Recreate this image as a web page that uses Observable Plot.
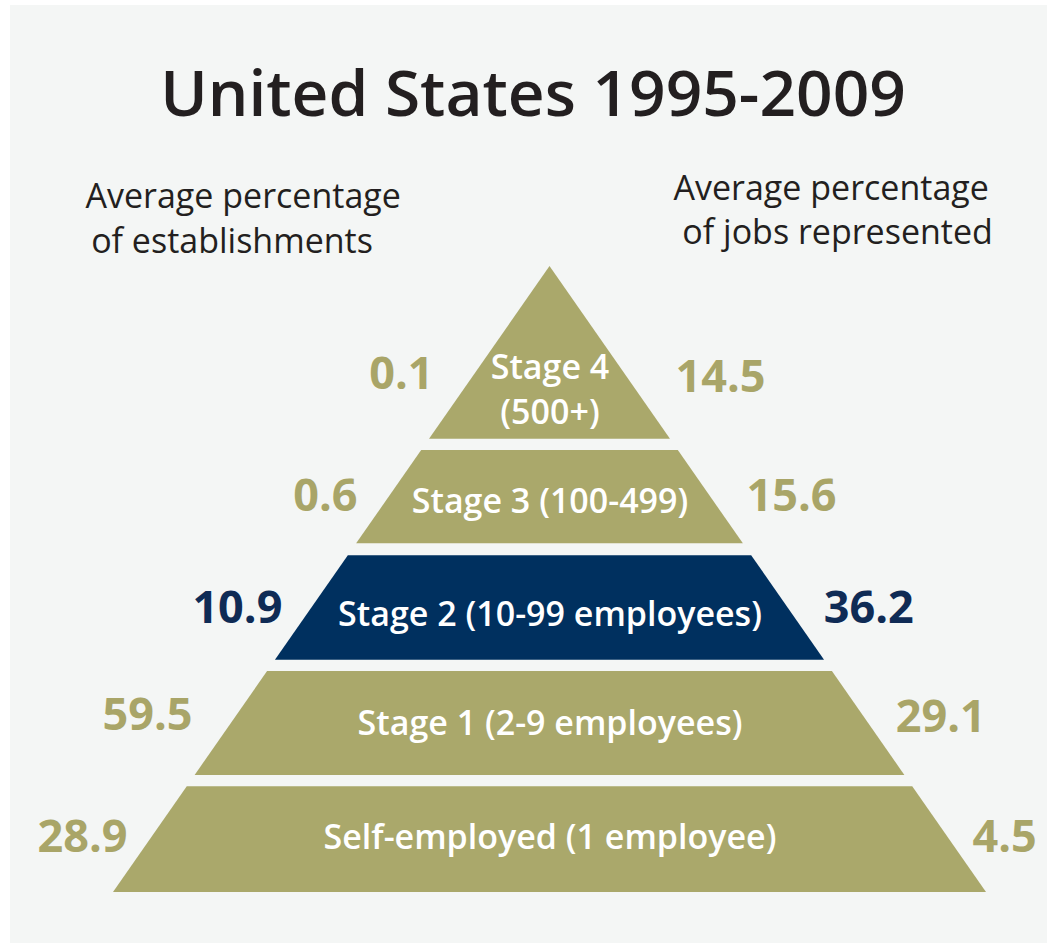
<!DOCTYPE html>
<html>
<head>
<meta charset="utf-8">
<script src="https://cdn.jsdelivr.net/npm/d3@7"></script>
<script src="https://cdn.jsdelivr.net/npm/@observablehq/plot@0.6"></script>
<style>
  html, body { margin: 0; padding: 0; background: #ffffff; }
  #panel {
    position: absolute; left: 10px; top: 5px; width: 1037px; height: 938px;
    background: #f4f6f5; overflow: hidden;
    font-family: "Open Sans", "Noto Sans", sans-serif;
  }
  #title {
    position: absolute; left: 0; top: 44px; width: 1037px; box-sizing: border-box;
    padding-left: 9px; text-align: center;
    font-size: 64px; line-height: 86px; font-weight: 600; color: #231f20;
  }
  #chart { position: absolute; left: 0; top: 145px; }
</style>
</head>
<body>
<div id="panel">
  <div id="title"></div>
  <div id="chart"></div>
</div>
<script>
// ---- data ----
const title = "United States 1995-2009";
const stages = [
  "Stage 4\n(500+)",
  "Stage 3 (100-499)",
  "Stage 2 (10-99 employees)",
  "Stage 1 (2-9 employees)",
  "Self-employed (1 employee)"
];
const establishments = [0.1, 0.6, 10.9, 59.5, 28.9];
const jobs = [14.5, 15.6, 36.2, 29.1, 4.5];
const highlighted = "Stage 2 (10-99 employees)";
const leftHeader = "Average percentage\n\u2009of establishments";
const rightHeader = "Average percentage\n of jobs represented";

// ---- layout (pyramid units: t = 0 apex .. 1 base; x = -1 .. 1 base half-widths) ----
const bandTop = [0, 0.294, 0.462, 0.647, 0.831];
const bandBottom = [0.276, 0.443, 0.629, 0.813, 1];
const nameBaseline = [0.251, 0.393, 0.5735, 0.749, 0.931];
const leftValueBaseline = [0.195, 0.390, 0.569, 0.741, 0.936];
const rightValueBaseline = [0.201, 0.391, 0.569, 0.744, 0.936];
const leftValueX = [-0.267, -0.441, -0.613, -0.819, -0.968];
const rightValueX = [0.2875, 0.450, 0.627, 0.792, 0.968];

const olive = "#aaa86b", oliveText = "#a9a568";
const navy = "#00305f", navyText = "#0f2b55";

document.getElementById("title").textContent = title;

const rows = stages.map((name, i) => ({name, i, est: establishments[i], jobs: jobs[i], hi: name === highlighted}));
const edges = rows.flatMap(r => [bandTop[r.i], bandBottom[r.i]].map(t => ({name: r.name, t, x1: -t, x2: t, hi: r.hi})));

const font = "'Open Sans', 'Noto Sans', sans-serif";
const headerMarks = [
  [leftHeader, 75, 102, 45],
  [rightHeader, 663, 93, 44]
].map(([t, dx, dy, lh]) => Plot.text([t], {
  text: d => d, frameAnchor: "top-left", dx, dy, textAnchor: "start", lineAnchor: "bottom",
  fontSize: 34, fontWeight: 400, fill: "#231f20", fontFamily: font, lineHeight: lh / 34
}));

const chart = Plot.plot({
  width: 1037,
  height: 793,
  margin: 0,
  x: {domain: [-1, 1], range: [103, 976], axis: null},
  y: {domain: [0, 1], range: [116, 742], axis: null},
  color: {type: "identity"},
  style: {background: "transparent", fontFamily: font, overflow: "visible"},
  marks: [
    Plot.areaX(edges, {y: "t", x1: "x1", x2: "x2", z: "name", fill: d => d.hi ? navy : olive, curve: "linear"}),
    Plot.text(rows, {
      x: () => 0, y: d => nameBaseline[d.i], text: "name", fill: "white",
      fontSize: 34, fontWeight: 600, lineAnchor: "bottom", lineHeight: 1.32, textAnchor: "middle", fontFamily: font
    }),
    Plot.text(rows, {
      x: d => leftValueX[d.i], y: d => leftValueBaseline[d.i], text: d => d.est.toFixed(1),
      fill: d => d.hi ? navyText : oliveText, textAnchor: "end", lineAnchor: "bottom",
      fontSize: 45, fontWeight: 700, fontFamily: font
    }),
    Plot.text(rows, {
      x: d => rightValueX[d.i], y: d => rightValueBaseline[d.i], text: d => d.jobs.toFixed(1),
      fill: d => d.hi ? navyText : oliveText, textAnchor: "start", lineAnchor: "bottom",
      fontSize: 45, fontWeight: 700, fontFamily: font
    }),
    ...headerMarks
  ]
});
document.getElementById("chart").appendChild(chart);
</script>
</body>
</html>
